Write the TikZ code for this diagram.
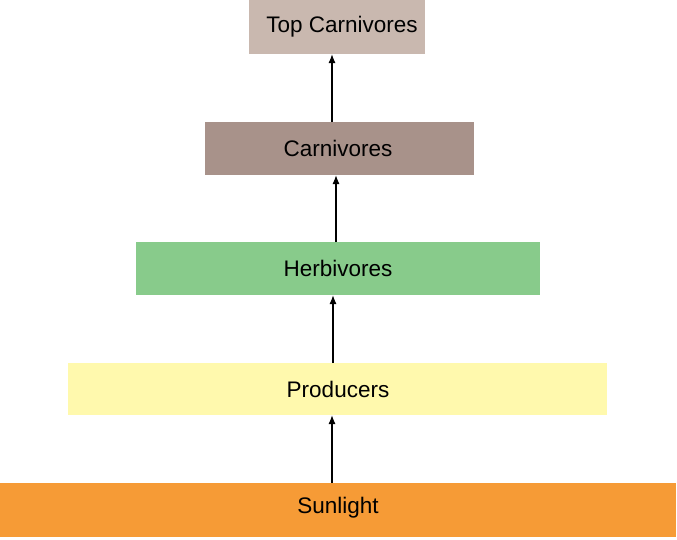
\documentclass[tikz,border=0pt]{standalone}
\usepackage{fontspec}
\setmainfont{Liberation Sans}
\usetikzlibrary{arrows.meta}
\definecolor{ctop}{HTML}{C9B8AF}
\definecolor{ccarn}{HTML}{A8928A}
\definecolor{cherb}{HTML}{88CB8B}
\definecolor{cprod}{HTML}{FFF9AD}
\definecolor{csun}{HTML}{F69B36}
\begin{document}
\begin{tikzpicture}[x=1pt,y=-1pt,
  lvl/.style={inner sep=0pt,font=\fontsize{22.5}{26}\selectfont},
  arr/.style={-{Latex[length=9pt,width=7pt]},line width=1.3pt}]
\useasboundingbox (0,0) rectangle (677,539);
\fill[ctop] (249,0) rectangle (425,54);
\node[lvl] (top) at (342,27) {Top Carnivores};
\coordinate (topb) at (332,54);
\fill[ccarn] (205,122) rectangle (474,175);
\node[lvl] (carn) at (338,148.5) {Carnivores};
\coordinate (carnt) at (332,122);
\coordinate (carnb) at (336,175);
\fill[cherb] (136,242) rectangle (540,295);
\node[lvl] (herb) at (338,268.5) {Herbivores};
\coordinate (herbt) at (336,242);
\coordinate (herbb) at (333,295);
\fill[cprod] (68,363) rectangle (607,415);
\node[lvl] (prod) at (338,389) {Producers};
\coordinate (prodt) at (333,363);
\coordinate (prodb) at (332,415);
\fill[csun] (0,483) rectangle (676,537);
\node[lvl] (sun) at (338,508) {Sunlight};
\coordinate (sunt) at (332,483);
\draw[arr] (sunt) -- (prodb);
\draw[arr] (prodt) -- (herbb);
\draw[arr] (herbt) -- (carnb);
\draw[arr] (carnt) -- (topb);
\end{tikzpicture}
\end{document}
